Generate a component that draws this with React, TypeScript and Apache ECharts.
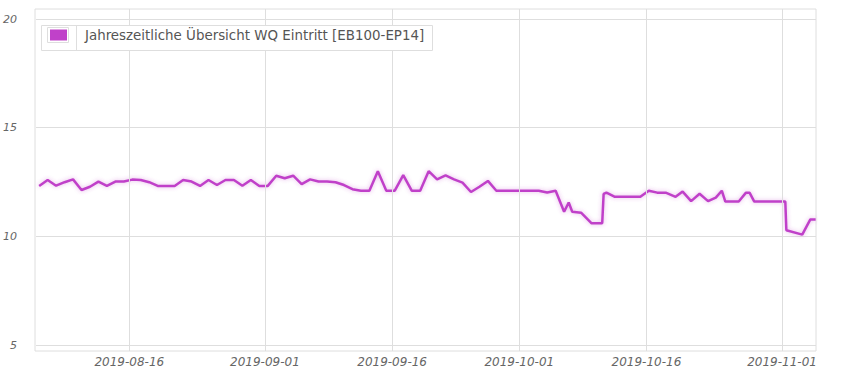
import React, { useEffect, useRef } from "react";
import * as echarts from "echarts";

// ---- data ----
const seriesName = "Jahreszeitliche Übersicht WQ Eintritt [EB100-EP14]";

const times: string[] = [
  "2019-08-05 06:00", "2019-08-06 06:00", "2019-08-07 06:00", "2019-08-08 06:00", "2019-08-09 06:00",
  "2019-08-10 06:00", "2019-08-11 06:00", "2019-08-12 06:00", "2019-08-13 06:00", "2019-08-14 06:00",
  "2019-08-15 06:00", "2019-08-16 06:00", "2019-08-17 06:00", "2019-08-18 06:00", "2019-08-19 06:00",
  "2019-08-20 06:00", "2019-08-21 06:00", "2019-08-22 06:00", "2019-08-23 06:00", "2019-08-24 06:00",
  "2019-08-25 06:00", "2019-08-26 06:00", "2019-08-27 06:00", "2019-08-28 06:00", "2019-08-29 06:00",
  "2019-08-30 06:00", "2019-08-31 06:00", "2019-09-01 06:00", "2019-09-02 06:00", "2019-09-03 06:00",
  "2019-09-04 06:00", "2019-09-05 06:00", "2019-09-06 06:00", "2019-09-07 06:00", "2019-09-08 06:00",
  "2019-09-09 06:00", "2019-09-10 06:00", "2019-09-11 06:00", "2019-09-12 06:00", "2019-09-13 06:00",
  "2019-09-14 06:00", "2019-09-15 06:00", "2019-09-16 06:00", "2019-09-17 06:00", "2019-09-18 06:00",
  "2019-09-19 06:00", "2019-09-20 06:00", "2019-09-21 06:00", "2019-09-22 06:00", "2019-09-23 06:00",
  "2019-09-24 06:00", "2019-09-25 06:00", "2019-09-26 06:00", "2019-09-27 06:00", "2019-09-28 06:00",
  "2019-09-29 06:00", "2019-09-30 06:00", "2019-10-01 06:00", "2019-10-02 06:00", "2019-10-03 06:00",
  "2019-10-04 06:00", "2019-10-05 06:00",
  "2019-10-06 06:00", "2019-10-06 19:00", "2019-10-07 05:00", "2019-10-08 06:00", "2019-10-09 12:00",
  "2019-10-10 18:00", "2019-10-10 22:00", "2019-10-11 06:00", "2019-10-12 06:00", "2019-10-13 06:00",
  "2019-10-14 06:00", "2019-10-15 06:00", "2019-10-16 06:00", "2019-10-17 06:00", "2019-10-18 06:00",
  "2019-10-19 10:00", "2019-10-20 06:00", "2019-10-21 06:00", "2019-10-22 06:00", "2019-10-23 06:00",
  "2019-10-24 04:00", "2019-10-24 21:00", "2019-10-25 07:00", "2019-10-26 21:00", "2019-10-27 17:00",
  "2019-10-28 04:00", "2019-10-28 17:00", "2019-11-01 09:00", "2019-11-01 12:00", "2019-11-03 09:00",
  "2019-11-04 08:00", "2019-11-04 23:00",
];

const values: number[] = [
  12.32, 12.59, 12.33, 12.49, 12.62,
  12.13, 12.28, 12.52, 12.32, 12.52,
  12.52, 12.61, 12.59, 12.49, 12.32,
  12.32, 12.32, 12.59, 12.52, 12.32,
  12.59, 12.36, 12.59, 12.59, 12.33,
  12.59, 12.32, 12.32, 12.79, 12.67,
  12.79, 12.4, 12.62, 12.52, 12.52,
  12.49, 12.36, 12.17, 12.1, 12.1,
  13.0, 12.1, 12.1, 12.82, 12.1,
  12.1, 13.0, 12.62, 12.8, 12.62,
  12.47, 12.04, 12.28, 12.55, 12.1,
  12.1, 12.1, 12.1, 12.1, 12.1,
  12.02, 12.1,
  11.13, 11.56, 11.13, 11.09, 10.6,
  10.6, 11.95, 12.01, 11.82, 11.82,
  11.82, 11.82, 12.1, 12.01, 12.01,
  11.82, 12.06, 11.62, 11.96, 11.62,
  11.78, 12.1, 11.6, 11.6, 12.0,
  12.0, 11.6, 11.6, 10.28, 10.08,
  10.78, 10.78,
];

const xTickDates: string[] = ["2019-08-16", "2019-09-01", "2019-09-16", "2019-10-01", "2019-10-16", "2019-11-01"];
const yTicks: number[] = [5, 10, 15, 20];
const xRange: string[] = ["2019-08-04 21:00", "2019-11-05 00:00"];

const toTs = (s: string) => {
  const [d, h] = s.split(" ");
  return new Date(d + "T" + (h || "00:00") + ":00").getTime();
};

const LINE_COLOR = "#c041c9";
const GRID_COLOR = "#dedede";
const LABEL_FONT = "DejaVu Sans";

export default function App() {
  const ref = useRef<HTMLDivElement>(null);
  useEffect(() => {
    if (!ref.current) return;
    const chart = echarts.init(ref.current, undefined, { renderer: "svg" });
    const xMin = toTs(xRange[0]);
    const xMax = toTs(xRange[1]);
    const option: any = {
      animation: false,
      backgroundColor: "#ffffff",
      grid: [
        { left: 35, right: 34, top: 19, bottom: 30 },
        { left: 35, right: 34, top: 9, bottom: 24, show: true, borderColor: GRID_COLOR, borderWidth: 1, backgroundColor: "transparent" },
      ],
      xAxis: [
        { type: "time", gridIndex: 0, min: xMin, max: xMax, show: false },
        { type: "time", gridIndex: 1, min: xMin, max: xMax, show: false },
      ],
      yAxis: [
        {
          type: "value",
          gridIndex: 0,
          min: yTicks[0],
          max: yTicks[yTicks.length - 1],
          interval: 5,
          axisLine: { show: false },
          axisTick: { show: false },
          splitLine: { show: true, lineStyle: { color: GRID_COLOR, width: 1 } },
          axisLabel: {
            color: "#666",
            fontStyle: "italic",
            fontFamily: LABEL_FONT,
            fontSize: 11,
            margin: 19,
            overflow: "none",
          },
        },
        { type: "value", gridIndex: 1, min: 0, max: 1, show: false },
      ],
      series: [
        {
          type: "line",
          name: "ticks",
          xAxisIndex: 1,
          yAxisIndex: 1,
          data: [],
          silent: true,
          markLine: {
            silent: true,
            symbol: ["none", "none"],
            lineStyle: { color: GRID_COLOR, type: "solid", width: 1 },
            label: {
              show: true,
              position: "start",
              formatter: "{b}",
              color: "#666",
              fontStyle: "italic",
              fontFamily: LABEL_FONT,
              fontSize: 12,
              distance: 5,
            },
            data: xTickDates.map((d) => ({ xAxis: toTs(d), name: d })),
          },
          z: 1,
        },
        {
          type: "line",
          name: seriesName,
          xAxisIndex: 0,
          yAxisIndex: 0,
          data: times.map((t, i) => [toTs(t), values[i]]),
          showSymbol: false,
          symbol: "none",
          lineStyle: {
            color: LINE_COLOR,
            width: 2.5,
            shadowColor: "rgba(190,60,200,0.4)",
            shadowBlur: 4,
          },
          itemStyle: { color: LINE_COLOR },
          z: 3,
        },
      ],
      graphic: [
        {
          type: "group",
          z: 100,
          children: [
            { type: "rect", shape: { x: 41.5, y: 25.5, width: 391, height: 25 }, style: { fill: "#ffffff", stroke: GRID_COLOR, lineWidth: 1 }, z: 100 },
            { type: "rect", shape: { x: 47.5, y: 27.5, width: 21, height: 15 }, style: { fill: "#ffffff", stroke: GRID_COLOR, lineWidth: 1 }, z: 101 },
            { type: "rect", shape: { x: 50, y: 29.5, width: 17, height: 11 }, style: { fill: LINE_COLOR }, z: 102 },
            { type: "line", shape: { x1: 76.5, y1: 25.5, x2: 76.5, y2: 50.5 }, style: { stroke: GRID_COLOR, lineWidth: 1 }, z: 101 },
            {
              type: "text",
              x: 85,
              y: 35,
              z: 102,
              style: { text: seriesName, fill: "#555", fontSize: 13.4, fontFamily: "DejaVu Sans", verticalAlign: "middle", align: "left" },
            },
          ],
        },
      ],
    };
    chart.setOption(option);
    return () => chart.dispose();
  }, []);
  return <div ref={ref} style={{ width: 850, height: 375, position: "absolute", left: 0, top: 0 }} />;
}
